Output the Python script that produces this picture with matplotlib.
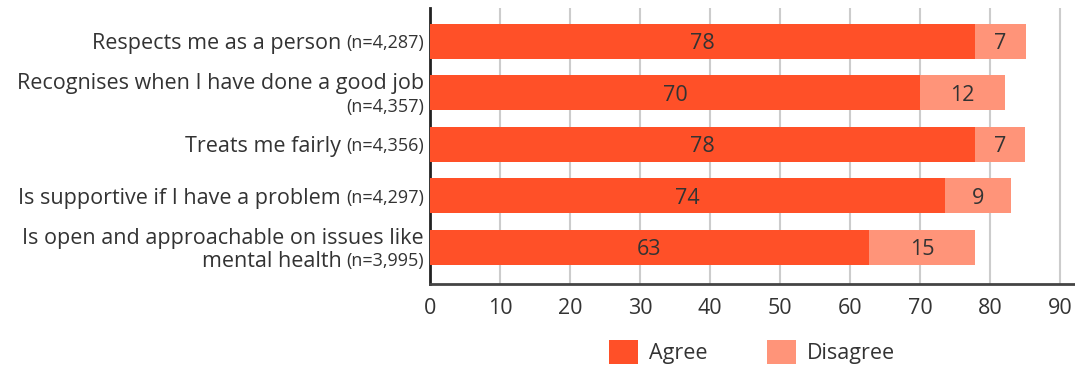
import matplotlib
matplotlib.use("Agg")
import matplotlib.pyplot as plt
from matplotlib.patches import Patch

# ---- data ----
main_lines = [
    ["Respects me as a person"],
    ["Recognises when I have done a good job"],
    ["Treats me fairly"],
    ["Is supportive if I have a problem"],
    ["Is open and approachable on issues like", "mental health"],
]
n_labels = ["(n=4,287)", "(n=4,357)", "(n=4,356)", "(n=4,297)", "(n=3,995)"]
n_on_new_line = [False, True, False, False, False]
agree = [77.9, 70.0, 77.9, 73.6, 62.7]
disagree = [7.2, 12.1, 7.1, 9.4, 15.2]
xticks = [0, 10, 20, 30, 40, 50, 60, 70, 80, 90]

AGREE_C = "#FF5028"
DIS_C = "#FF9479"
TEXT_C = "#333333"
FONT = "Open Sans"
FS = 15.5
FS_N = 13

plt.rcParams["font.family"] = [FONT, "DejaVu Sans"]

fig = plt.figure(figsize=(10.75, 3.65), dpi=100)
L, R, T, B = 430 / 1075, 1074 / 1075, 1 - 8 / 365, 1 - 284 / 365
ax = fig.add_axes([L, B, R - L, T - B])

y = list(range(len(agree)))
h = 0.68
ax.barh(y, agree, height=h, color=AGREE_C, zorder=3)
ax.barh(y, disagree, left=agree, height=h, color=DIS_C, zorder=3)

for i in y:
    ax.text(agree[i] / 2, i, f"{agree[i]:.0f}", ha="center", va="center_baseline",
            fontsize=FS, color=TEXT_C, zorder=4)
    ax.text(agree[i] + disagree[i] / 2, i, f"{disagree[i]:.0f}", ha="center",
            va="center_baseline", fontsize=FS, color=TEXT_C, zorder=4)

ax.set_xlim(0, 92)
ax.set_ylim(4.71, -0.65)
ax.set_xticks(xticks)
ax.set_yticks([])
ax.tick_params(axis="x", length=0, pad=10, labelsize=FS, labelcolor=TEXT_C)
ax.grid(axis="x", color="#cccccc", linewidth=1.5, zorder=0)
for s in ["top", "right"]:
    ax.spines[s].set_visible(False)
ax.spines["left"].set_color("#222222")
ax.spines["left"].set_linewidth(2)
ax.spines["bottom"].set_color("#444444")
ax.spines["bottom"].set_linewidth(2)

# ---- category labels with mixed font sizes ----
xr = -6 / ax.bbox.width  # axes fraction
trans = ax.get_yaxis_transform()
line_gap = 0.46  # in data units
fig.canvas.draw()
renderer = fig.canvas.get_renderer()
for i in y:
    lines = main_lines[i]
    nlines = len(lines) + (1 if n_on_new_line[i] else 0)
    ys = [i + (k - (nlines - 1) / 2) * line_gap for k in range(nlines)]
    if n_on_new_line[i]:
        ax.text(xr, ys[0], lines[0], transform=trans, ha="right", va="center_baseline",
                fontsize=FS, color=TEXT_C)
        ax.text(xr, ys[1], n_labels[i], transform=trans, ha="right", va="center_baseline",
                fontsize=FS_N, color=TEXT_C)
    else:
        for k, ln in enumerate(lines[:-1]):
            ax.text(xr, ys[k], ln, transform=trans, ha="right", va="center_baseline",
                    fontsize=FS, color=TEXT_C)
        yl = ys[-1]
        nt = ax.text(xr, yl, n_labels[i], transform=trans, ha="right",
                     va="center_baseline", fontsize=FS_N, color=TEXT_C)
        bb = nt.get_window_extent(renderer)
        x_left = (bb.x0 - ax.bbox.x0) / ax.bbox.width - 5 / ax.bbox.width
        ax.text(x_left, yl, lines[-1], transform=trans, ha="right",
                va="center_baseline", fontsize=FS, color=TEXT_C)

handles = [Patch(facecolor=AGREE_C, label="Agree"), Patch(facecolor=DIS_C, label="Disagree")]
fig.legend(handles=handles, loc="center", bbox_to_anchor=(752 / 1075, 1 - 352 / 365),
           ncol=2, frameon=False, fontsize=FS, handlelength=1.35, handleheight=1.35,
           columnspacing=2.8, handletextpad=0.5, labelcolor=TEXT_C)

fig.savefig("out.png", dpi=100)
